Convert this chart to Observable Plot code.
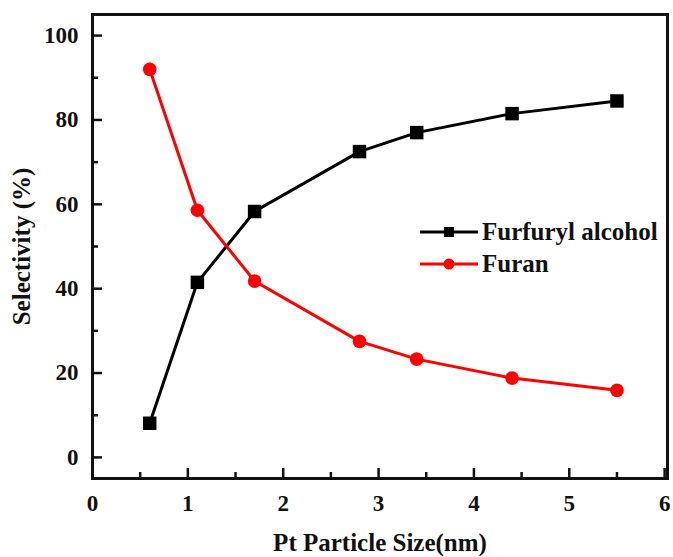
<!DOCTYPE html>
<html><head><meta charset="utf-8">
<script src="https://cdn.jsdelivr.net/npm/d3@7"></script>
<script src="https://cdn.jsdelivr.net/npm/@observablehq/plot@0.6"></script>
<style>
body{margin:0;background:#fff;}
#wrap{position:relative;width:673px;height:557px;}
#wrap svg.chart{position:absolute;left:0;top:0;}
svg.chart g[aria-label$="tick label"], svg.chart g[aria-label$="tick label"] text{font-size:23px !important;}
svg.chart g[aria-label$="-axis label"], svg.chart g[aria-label$="-axis label"] text{font-size:25px !important;}
.legend{position:absolute;left:420px;top:216px;font-family:"Liberation Serif","Times New Roman",serif;font-weight:bold;font-size:25px;color:#111;line-height:32px;}
.legend div{display:flex;align-items:center;white-space:nowrap;height:32px;}
.legend svg{margin-right:4px;}
</style></head><body><div id="wrap"></div>
<script>
const sizes = [0.6, 1.1, 1.7, 2.8, 3.4, 4.4, 5.5];
const furfurylAlcohol = [8.1, 41.5, 58.3, 72.5, 77.0, 81.5, 84.5];
const furan = [92.0, 58.6, 41.8, 27.5, 23.3, 18.8, 15.9];
const seriesNames = ["Furfuryl alcohol", "Furan"];
const seriesColors = ["#000000", "#ff0000"];
const xTicks = [0, 1, 2, 3, 4, 5, 6];
const xMinor = [0.5, 1.5, 2.5, 3.5, 4.5, 5.5];
const yTicks = [0, 20, 40, 60, 80, 100];
const yMinor = [10, 30, 50, 70, 90];

const faData = sizes.map((x, i) => ({x, y: furfurylAlcohol[i]}));
const fuData = sizes.map((x, i) => ({x, y: furan[i]}));

const font = '"Liberation Serif","Times New Roman",serif';

const chart = Plot.plot({
  width: 673, height: 557,
  marginLeft: 92, marginRight: 6, marginTop: 14, marginBottom: 79,
  style: {fontFamily: font, fontWeight: "bold", fontSize: "23px", color: "#111", background: "white"},
  x: {domain: [0, 6.03]},
  y: {domain: [-5, 105]},
  marks: [
    Plot.frame({stroke: "#111", strokeWidth: 3}),
    Plot.axisX(xTicks, {tickSize: -10, tickPadding: 26, strokeWidth: 2.5, label: "Pt Particle Size(nm)", labelAnchor: "center", labelArrow: "none", labelOffset: 72, tickFormat: d => d}),
    Plot.axisX(xMinor, {tickSize: -6, strokeWidth: 2.5, text: null, label: null}),
    Plot.axisY(yTicks, {tickSize: -10, tickPadding: 24, strokeWidth: 2.5, label: "Selectivity (%)", labelAnchor: "center", labelArrow: "none", labelOffset: 80, tickFormat: d => d}),
    Plot.axisY(yMinor, {tickSize: -6, strokeWidth: 2.5, text: null, label: null}),
    Plot.line(faData, {x: "x", y: "y", stroke: seriesColors[0], strokeWidth: 3}),
    Plot.line(fuData, {x: "x", y: "y", stroke: seriesColors[1], strokeWidth: 3}),
    Plot.dot(faData, {x: "x", y: "y", symbol: "square", r: 7.6, fill: seriesColors[0]}),
    Plot.dot(fuData, {x: "x", y: "y", symbol: "circle", r: 6.8, fill: seriesColors[1]})
  ]
});
chart.classList.add("chart");
const wrap = document.getElementById("wrap");
wrap.appendChild(chart);

const legend = document.createElement("div");
legend.className = "legend";
const symbols = ["square", "circle"];
seriesNames.forEach((name, i) => {
  const row = document.createElement("div");
  const c = seriesColors[i];
  const mk = symbols[i] === "square"
    ? `<rect x="24" y="11" width="10" height="10" fill="${c}"/>`
    : `<circle cx="29" cy="16" r="5.5" fill="${c}"/>`;
  row.innerHTML = `<svg width="58" height="32"><line x1="0" x2="58" y1="16" y2="16" stroke="${c}" stroke-width="3"/>${mk}</svg><span>${name}</span>`;
  legend.appendChild(row);
});
wrap.appendChild(legend);
</script></body></html>
